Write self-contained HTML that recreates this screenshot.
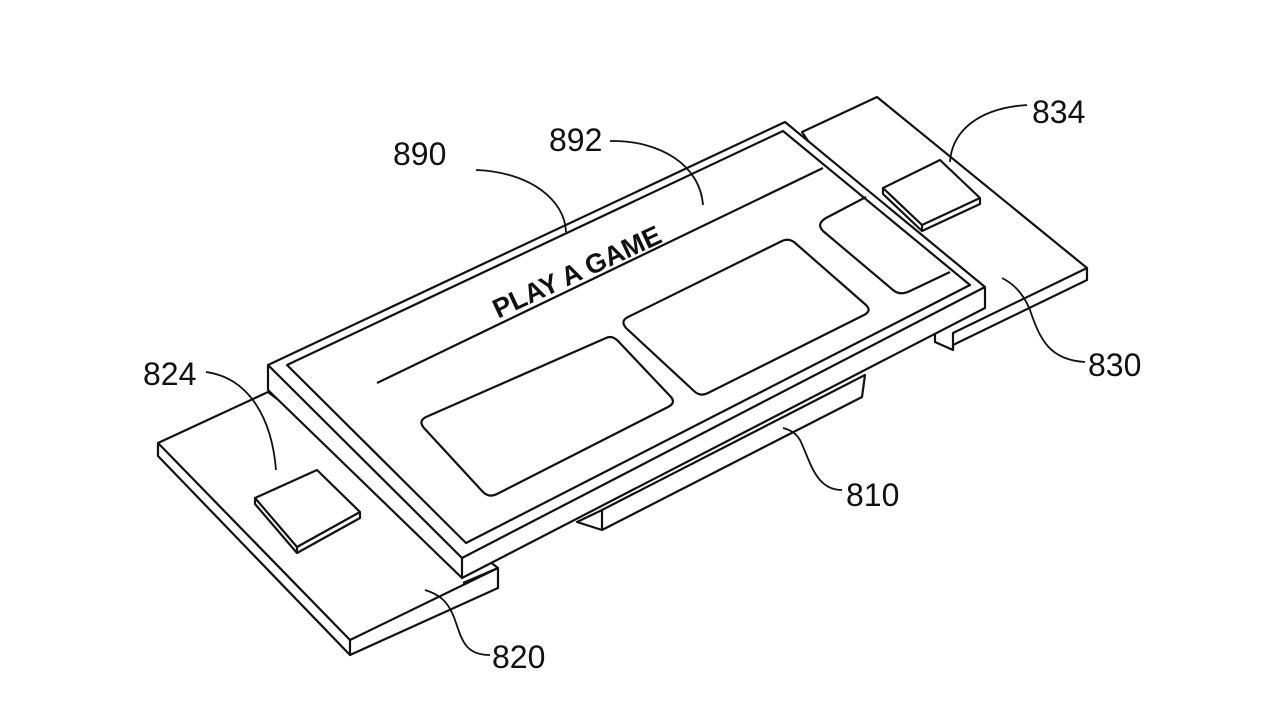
<!DOCTYPE html>
<html><head><meta charset="utf-8"><style>
html,body{margin:0;padding:0;background:#fff;width:1280px;height:720px;overflow:hidden}
svg{display:block}
text{font-family:"Liberation Sans",sans-serif;fill:#111}
</style></head><body>
<svg width="1280" height="720" viewBox="0 0 1280 720" fill="#fff" stroke="#111" stroke-width="2.2" stroke-linejoin="round">
<!-- right base 830 -->
<polygon points="802,132 877,97 1087,268 1087,280 953,345 953,350 935,342 935,330"/>
<polyline points="1087,268 953,333 953,350" fill="none"/>
<!-- chip 834 -->
<polygon points="883,188 940,160 980,198 980,204 922,231 883,194"/>
<polyline points="883,188 922,225 980,198" fill="none"/>
<line x1="922" y1="225" x2="922" y2="231"/>
<!-- left base 820 -->
<polygon points="158,443 268,392 498,568 498,588 350,655 158,456"/>
<polyline points="158,443 350,640 498,568" fill="none"/>
<line x1="350" y1="640" x2="350" y2="655"/>
<line x1="498" y1="568" x2="463" y2="583"/>
<!-- chip 824 -->
<polygon points="255,498 317,470 360,512 360,518 297,553 255,504"/>
<polyline points="255,498 297,547 360,512" fill="none"/>
<line x1="297" y1="547" x2="297" y2="553"/>
<!-- block 810 -->
<polygon points="577,522 602,510 865,375 862,397 602,530"/>
<line x1="602" y1="510" x2="602" y2="530"/>
<!-- device 890 -->
<polygon points="268,365 785,122 985,287 985,308 462,578 268,390"/>
<polyline points="268,365 462,558 985,287" fill="none"/>
<line x1="462" y1="558" x2="462" y2="578"/>
<!-- screen inner border -->
<polygon points="287,365 783,131 970,285 466,543" fill="#fff"/>
<line x1="377" y1="383" x2="823" y2="168"/>
<path d="M866,197 L826,218 Q816,224 823,231 L893,290 Q900,296 910,291 L950,272" fill="none"/>
<path d="M782,241 Q788,238 794,242 L866,305 Q872,311 864,315 L708,393 Q700,397 694,391 L626,328 Q620,321 628,317 Z"/>
<path d="M606,338 Q612,335 618,341 L671,397 Q676,403 668,407 L497,494 Q489,498 483,492 L424,428 Q418,421 426,417 Z"/>
<text x="577" y="281" font-size="27" font-weight="bold" text-anchor="middle" stroke="none" transform="rotate(-25 577 272)">PLAY A GAME</text>
<g fill="none" stroke-width="1.8">
<path d="M476,170 C530,172 565,200 566,232"/>
<path d="M610,141 C660,140 700,165 703,205"/>
<path d="M1027,105 C980,108 952,130 950,162"/>
<path d="M1085,362 C1050,360 1040,340 1030,310 C1022,290 1010,282 1002,278"/>
<path d="M206,372 C250,378 272,420 276,470"/>
<path d="M842,490 C815,490 810,460 800,440 C795,432 790,430 783,428"/>
<path d="M490,655 C465,655 462,640 455,620 C448,600 438,594 425,590"/>
</g>
<g stroke="none" font-size="32">
<text x="393" y="165">890</text>
<text x="549" y="151">892</text>
<text x="1032" y="123">834</text>
<text x="1088" y="376">830</text>
<text x="143" y="385">824</text>
<text x="846" y="506">810</text>
<text x="492" y="668">820</text>
</g>
</svg>
</body></html>
